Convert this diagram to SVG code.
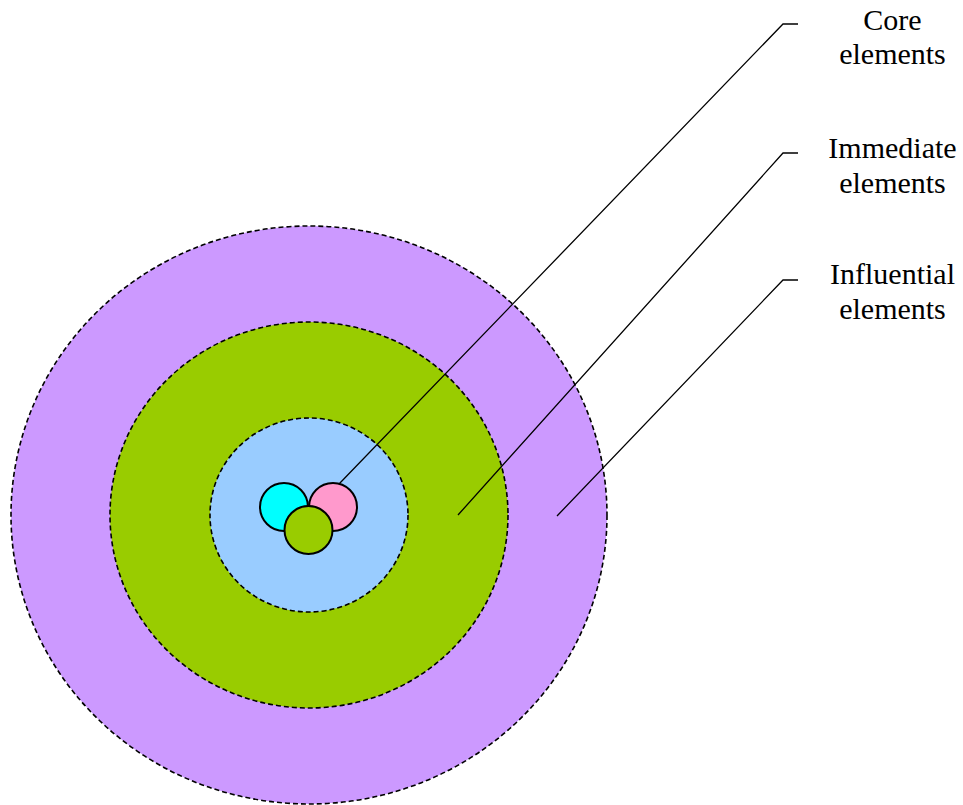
<svg xmlns="http://www.w3.org/2000/svg" width="963" height="805" viewBox="0 0 963 805">
<style>
.ring{stroke:#000;stroke-width:1.6;stroke-dasharray:5 3}
.core{stroke:#000;stroke-width:2}
.conn{stroke:#000;stroke-width:1.3;fill:none}
.lbl{font-size:30px;fill:#000;text-anchor:middle}
</style>
<rect width="963" height="805" fill="#fff"/>
<g id="influential"><ellipse class="ring" cx="309" cy="515" rx="298" ry="289" fill="#CC99FF"/></g>
<g id="immediate"><ellipse class="ring" cx="309" cy="515" rx="199" ry="193" fill="#99CC00"/></g>
<g id="inner"><ellipse class="ring" cx="309" cy="515" rx="99" ry="97" fill="#99CCFF"/></g>
<g id="core-cyan"><circle class="core" cx="284" cy="507" r="24" fill="#00FFFF"/></g>
<g id="core-pink"><circle class="core" cx="333" cy="507" r="24" fill="#FF99CC"/></g>
<g id="core-olive"><circle class="core" cx="308.5" cy="530" r="24" fill="#99CC00"/></g>
<g id="connectors">
<polyline class="conn" points="339,484 783,24 798,24"/>
<polyline class="conn" points="458,515 783,153 798,153"/>
<polyline class="conn" points="557,516 783,280 798,280"/>
</g>
<g font-family="Liberation Serif, Times New Roman, serif">
<g id="label-core"><text class="lbl" x="892.5" y="30">Core</text><text class="lbl" x="892.5" y="64">elements</text></g>
<g id="label-immediate"><text class="lbl" x="892.5" y="158">Immediate</text><text class="lbl" x="892.5" y="193">elements</text></g>
<g id="label-influential"><text class="lbl" x="892.5" y="284">Influential</text><text class="lbl" x="892.5" y="319">elements</text></g>
</g>
</svg>
